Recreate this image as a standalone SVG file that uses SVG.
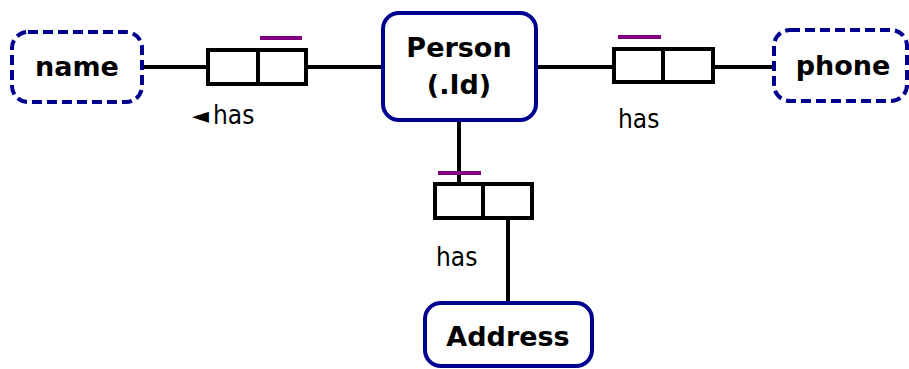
<svg xmlns="http://www.w3.org/2000/svg" width="909" height="369" viewBox="0 0 909 369">
  <style>
    .entity { fill: #ffffff; stroke: #000090; stroke-width: 4; }
    .value { fill: #ffffff; stroke: #000090; stroke-width: 4; stroke-dasharray: 10 5; }
    .role { fill: #ffffff; stroke: #000000; stroke-width: 4; }
    .link { fill: none; stroke: #000000; stroke-width: 4; }
    .uniq { fill: none; stroke: #800080; stroke-width: 4; }
    .title { font-family: "DejaVu Sans", Verdana, sans-serif; font-weight: bold; font-size: 27px; fill: #000000; text-anchor: middle; }
    .label { font-family: "DejaVu Sans Condensed", "DejaVu Sans", sans-serif; font-size: 26px; fill: #000000; }
  </style>

  <g id="connectors">
    <line class="link" x1="143" y1="67" x2="208" y2="67"/>
    <line class="link" x1="306" y1="67" x2="383" y2="67"/>
    <line class="link" x1="536" y1="67" x2="614" y2="67"/>
    <line class="link" x1="713" y1="67" x2="774" y2="67"/>
    <line class="link" x1="459" y1="121" x2="459" y2="184"/>
    <line class="link" x1="508" y1="218" x2="508" y2="303"/>
  </g>

  <g id="name">
    <rect class="value" x="12" y="32" width="130" height="70" rx="16"/>
    <text class="title" x="77" y="76">name</text>
  </g>

  <g id="person">
    <rect class="entity" x="383" y="13" width="153" height="107" rx="16"/>
    <text class="title" x="459" y="57">Person</text>
    <text class="title" x="459" y="94">(.Id)</text>
  </g>

  <g id="phone">
    <rect class="value" x="774" y="30" width="133" height="71" rx="16"/>
    <text class="title" x="843" y="75">phone</text>
  </g>

  <g id="address">
    <rect class="entity" x="425" y="303" width="167" height="63" rx="16"/>
    <text class="title" x="508" y="346">Address</text>
  </g>

  <g id="fact-name">
    <rect class="role" x="208" y="50" width="98" height="34"/>
    <line class="link" x1="258" y1="50" x2="258" y2="84"/>
    <line class="uniq" x1="260" y1="38" x2="302" y2="38"/>
    <text class="label" x="192" y="124"><tspan font-family="DejaVu Sans, sans-serif" font-size="22" dy="-1">◄</tspan><tspan x="213" dy="1">has</tspan></text>
  </g>

  <g id="fact-phone">
    <rect class="role" x="614" y="49" width="99" height="33"/>
    <line class="link" x1="663" y1="49" x2="663" y2="82"/>
    <line class="uniq" x1="618" y1="37" x2="661" y2="37"/>
    <text class="label" x="618" y="128">has</text>
  </g>

  <g id="fact-address">
    <rect class="role" x="435" y="184" width="97" height="34"/>
    <line class="link" x1="483" y1="184" x2="483" y2="218"/>
    <line class="uniq" x1="438" y1="173" x2="481" y2="173"/>
    <text class="label" x="436" y="266">has</text>
  </g>
</svg>
